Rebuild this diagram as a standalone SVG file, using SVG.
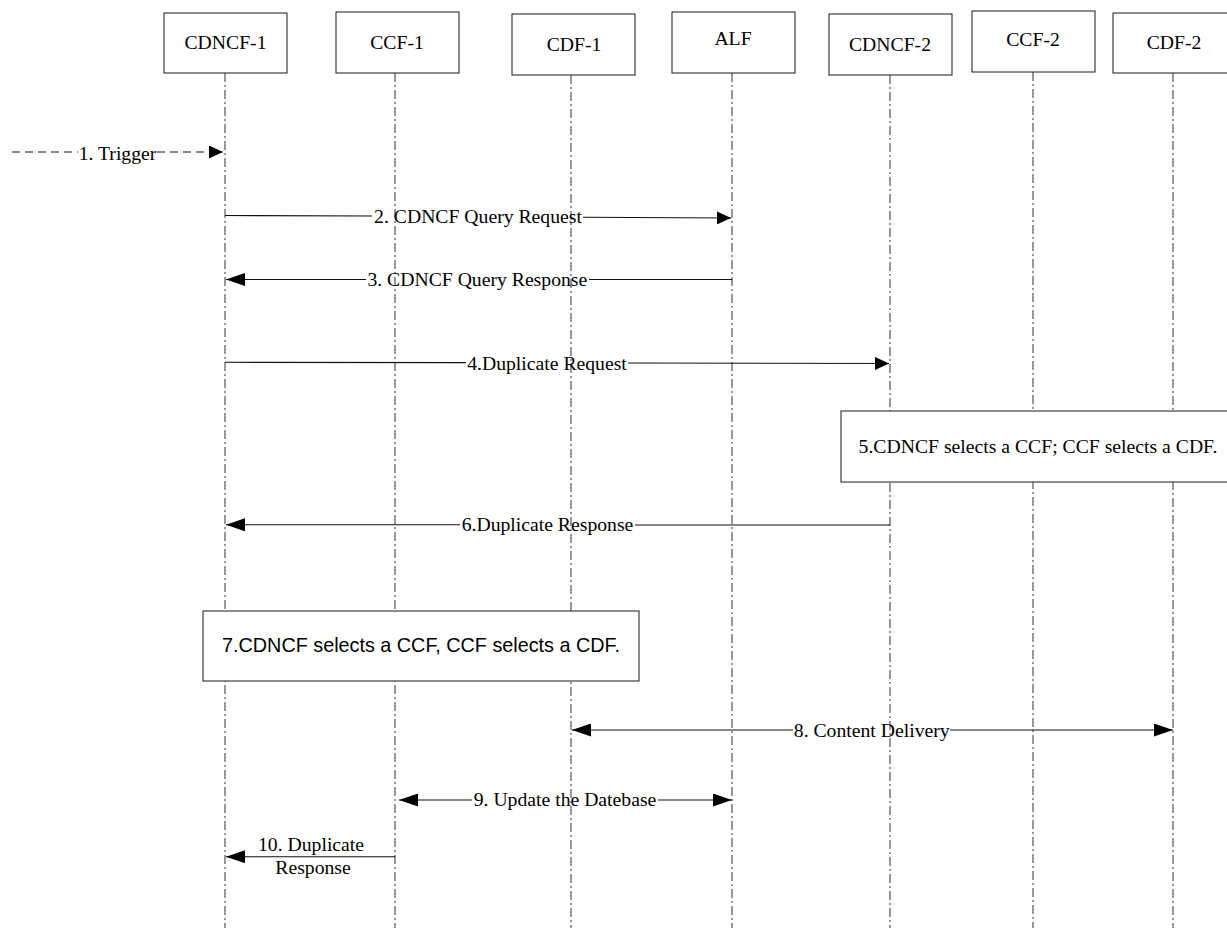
<svg xmlns="http://www.w3.org/2000/svg" width="1227" height="928" viewBox="0 0 1227 928">
<style>
.box{fill:#fff;stroke:#1a1a1a;stroke-width:1}
.t{font-family:"Liberation Serif","Times New Roman",serif;font-size:19.7px;fill:#000;text-anchor:middle}
.ts{font-family:"Liberation Sans",Arial,sans-serif;font-size:19.8px;fill:#000;text-anchor:middle}
.life{stroke:#333;stroke-width:1;stroke-dasharray:9 3 2 3;fill:none}
.msg{stroke:#111;stroke-width:1.1;fill:none}
.dash{stroke:#111;stroke-width:1.1;stroke-dasharray:8 5;fill:none}
</style>
<defs>
<marker id="ah" markerUnits="userSpaceOnUse" markerWidth="14" markerHeight="13" refX="14" refY="6.5" orient="auto"><path d="M0,0 L14,6.5 L0,13 z" fill="#000"/></marker>
<marker id="al" markerUnits="userSpaceOnUse" markerWidth="19" markerHeight="13" refX="19" refY="6.5" orient="auto"><path d="M0,0 L19,6.5 L0,13 z" fill="#000"/></marker>
</defs>
<rect width="1227" height="928" fill="#fff"/>
<g id="lifelines">
<line class="life" x1="225" y1="73" x2="225" y2="928"/>
<line class="life" x1="395" y1="73" x2="395" y2="928"/>
<line class="life" x1="571" y1="75" x2="571" y2="928"/>
<line class="life" x1="732" y1="73" x2="732" y2="928"/>
<line class="life" x1="890" y1="75" x2="890" y2="928"/>
<line class="life" x1="1033" y1="72" x2="1033" y2="928"/>
<line class="life" x1="1173" y1="73" x2="1173" y2="928"/>
</g>
<g id="CDNCF-1"><rect class="box" x="164" y="13" width="123" height="60"/><text class="t" x="225.5" y="49">CDNCF-1</text></g>
<g id="CCF-1"><rect class="box" x="336" y="12" width="123" height="61"/><text class="t" x="397" y="49">CCF-1</text></g>
<g id="CDF-1"><rect class="box" x="512" y="14" width="123" height="61"/><text class="t" x="574" y="51">CDF-1</text></g>
<g id="ALF"><rect class="box" x="672" y="12" width="123" height="61"/><text class="t" x="733" y="45">ALF</text></g>
<g id="CDNCF-2"><rect class="box" x="829" y="14" width="123" height="61"/><text class="t" x="890" y="51">CDNCF-2</text></g>
<g id="CCF-2"><rect class="box" x="972" y="11" width="123" height="61"/><text class="t" x="1033" y="46">CCF-2</text></g>
<g id="CDF-2"><rect class="box" x="1113" y="13" width="123" height="60"/><text class="t" x="1174" y="49">CDF-2</text></g>
<g id="note5"><rect class="box" x="841" y="411" width="400" height="71"/><text class="t" x="1038" y="452.5">5.CDNCF selects a CCF; CCF selects a CDF.</text></g>
<g id="note7"><rect class="box" x="203" y="611" width="436" height="70"/><text class="ts" x="421" y="652">7.CDNCF selects a CCF, CCF selects a CDF.</text></g>
<g id="connectors">
<line class="dash" x1="12" y1="152" x2="78" y2="152"/>
<line class="dash" x1="157" y1="152" x2="223" y2="152" marker-end="url(#ah)"/>
<text class="t" x="117.5" y="159.5">1. Trigger</text>

<line class="msg" x1="225" y1="215.5" x2="372" y2="216"/>
<line class="msg" x1="583" y1="217.3" x2="731" y2="218" marker-end="url(#ah)"/>
<text class="t" x="478" y="222.7">2. CDNCF Query Request</text>

<line class="msg" x1="732" y1="279.5" x2="589" y2="279.5"/>
<line class="msg" x1="366" y1="279.5" x2="226" y2="279.5" marker-end="url(#al)"/>
<text class="t" x="477.3" y="285.5">3. CDNCF Query Response</text>

<line class="msg" x1="225" y1="362.3" x2="466" y2="362.6"/>
<line class="msg" x1="628" y1="363" x2="889" y2="363.5" marker-end="url(#ah)"/>
<text class="t" x="547" y="369.5">4.Duplicate Request</text>

<line class="msg" x1="890" y1="525" x2="635" y2="525"/>
<line class="msg" x1="460" y1="524.8" x2="226" y2="524.8" marker-end="url(#al)"/>
<text class="t" x="547.5" y="531">6.Duplicate Response</text>

<line class="msg" x1="793" y1="730" x2="572" y2="730" marker-end="url(#al)"/>
<line class="msg" x1="950" y1="730" x2="1173" y2="730" marker-end="url(#al)"/>
<text class="t" x="871.7" y="736.5">8. Content Delivery</text>

<line class="msg" x1="472" y1="800" x2="399" y2="800" marker-end="url(#al)"/>
<line class="msg" x1="658" y1="800" x2="732" y2="800" marker-end="url(#al)"/>
<text class="t" x="565" y="805.5">9. Update the Datebase</text>

<line class="msg" x1="395" y1="856.7" x2="226" y2="856.7" marker-end="url(#al)"/>
<text class="t" x="311" y="851">10. Duplicate</text>
<text class="t" x="313" y="873.5">Response</text>
</g>
</svg>
